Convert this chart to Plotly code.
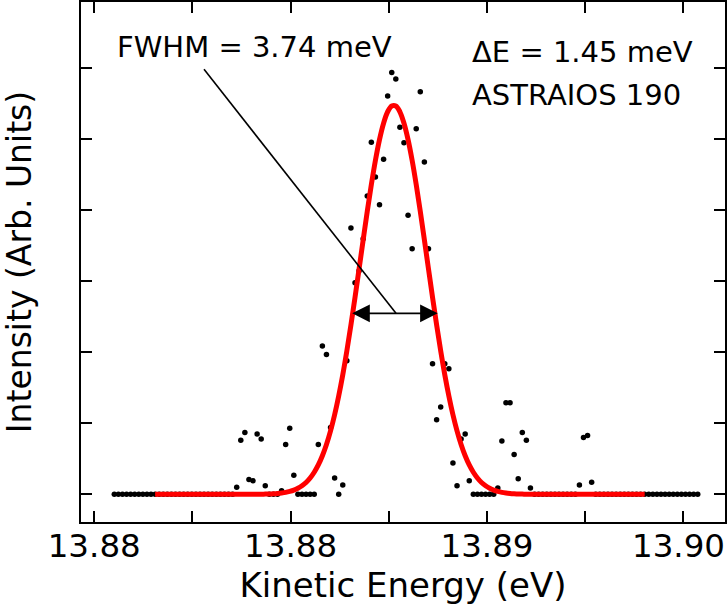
import numpy as np
import plotly.graph_objects as go

# Energy sampling of the scan (eV): start and step of the spectrometer grid
E_START = 13.8768188
E_STEP = 0.00016619
N_POINTS = 144
energy = np.round(E_START + E_STEP * np.arange(N_POINTS), 7)

# Measured intensity (arb. units), one value per energy sample
intensity = (
    [0.0] * 30
    + [0.10, 0.76, 0.87, 0.21, 0.19, 0.85, 0.78, 0.12, 0.0, 0.0,
       0.0, 0.05, 0.70, 0.93, 0.27, 0.0, 0.0, 0.0, 0.0, 0.0,
       0.70, 2.09, 1.97, 0.94, 0.23, 0.0, 0.13, 1.88, 3.75, 2.98,
       3.15, 3.60, 4.20, 4.96, 4.47, 4.08, 4.72, 5.61, 5.94, 5.85,
       5.17, 4.95, 3.93, 3.46, 5.15, 5.67, 4.68, 3.46, 1.84, 1.05,
       1.23, 1.84, 1.77, 0.44, 0.12, 0.78, 0.85, 0.19, 0.0, 0.0,
       0.0, 0.0, 0.0, 0.0, 0.09, 0.75, 1.29, 1.29, 0.56, 0.22,
       0.87, 0.76, 0.09]
    + [0.0] * 11
    + [0.13, 0.80, 0.83, 0.17]
    + [0.0] * 26
)

# Gaussian fit curve, drawn on samples 10..130 of the grid
FIT_FIRST, FIT_LAST = 10, 131
fit_values = (
    [0.0] * 27
    + [0.003, 0.005, 0.008, 0.012, 0.018, 0.027, 0.041, 0.059, 0.085, 0.120,
       0.167, 0.230, 0.311, 0.414, 0.543, 0.702, 0.894, 1.121, 1.385, 1.685,
       2.020, 2.385, 2.773, 3.177, 3.584, 3.984, 4.361, 4.703, 4.996, 5.227,
       5.388, 5.470, 5.470, 5.388, 5.227, 4.996, 4.703, 4.361, 3.984, 3.584,
       3.177, 2.773, 2.385, 2.020, 1.685, 1.385, 1.121, 0.894, 0.702, 0.543,
       0.414, 0.311, 0.230, 0.167, 0.120, 0.085, 0.059, 0.041, 0.027, 0.018,
       0.012, 0.008, 0.005, 0.003]
    + [0.0] * 30
)
fit_energy = energy[FIT_FIRST:FIT_LAST]

# Axis ticks (the last label, at the right edge, is placed as an annotation)
x_tickvals = [13.876, 13.880, 13.884, 13.888, 13.892, 13.896, 13.900]
x_ticktext = ["13.88", "", "13.88", "", "13.89", "", ""]
last_tick_text = "13.90"
y_tickvals = [0, 1, 2, 3, 4, 5, 6]

# Annotation texts
fwhm_text = "FWHM = 3.74 meV"
de_text = "\u0394E = 1.45 meV"
inst_text = "ASTRAIOS 190"

FONT = "DejaVu Sans"
TICK_SIZE = 32.5

fig = go.Figure()
fig.add_trace(go.Scatter(
    x=energy, y=intensity, mode="markers",
    marker=dict(color="black", size=5.5, line=dict(width=0)),
    showlegend=False, hoverinfo="skip"))
fig.add_trace(go.Scatter(
    x=fit_energy, y=fit_values, mode="lines",
    line=dict(color="#ff0000", width=5, shape="spline"),
    showlegend=False, hoverinfo="skip"))

# FWHM double arrow
fig.add_annotation(x=13.889992, y=2.549, ax=13.886448, ay=2.549,
                   xref="x", yref="y", axref="x", ayref="y",
                   text="", showarrow=True, arrowside="end+start",
                   arrowhead=2, arrowsize=2.2, arrowwidth=1.6, arrowcolor="black")
# Leader line from label to arrow
fig.add_shape(type="line", x0=13.880473, y0=5.986, x1=13.888293, y1=2.549,
              xref="x", yref="y", line=dict(color="black", width=1.6))

fig.add_annotation(x=13.876847, y=6.30, xref="x", yref="y", text=fwhm_text,
                   showarrow=False, xanchor="left", yanchor="middle",
                   font=dict(family=FONT, size=29, color="black"))
fig.add_annotation(x=13.891308, y=6.23, xref="x", yref="y", text=de_text,
                   showarrow=False, xanchor="left", yanchor="middle",
                   font=dict(family=FONT, size=29, color="black"))
fig.add_annotation(x=13.891308, y=5.624, xref="x", yref="y", text=inst_text,
                   showarrow=False, xanchor="left", yanchor="middle",
                   font=dict(family=FONT, size=29, color="black"))

# Right-most tick label, kept inside the page
fig.add_annotation(x=1.0023, y=0, xref="paper", yref="paper", text=last_tick_text,
                   showarrow=False, xanchor="right", yanchor="top", yshift=-4,
                   borderpad=0,
                   font=dict(family=FONT, size=TICK_SIZE, color="black"))

fig.update_xaxes(
    range=[13.875462, 13.901695],
    tickvals=x_tickvals, ticktext=x_ticktext,
    ticks="inside", ticklen=11, tickwidth=2, tickcolor="black",
    showline=True, linewidth=2, linecolor="black", mirror="ticks",
    showgrid=False, zeroline=False,
    ticklabeloverflow="allow", ticklabelstandoff=-6,
    tickfont=dict(family=FONT, size=TICK_SIZE, color="black"),
    title=dict(text="Kinetic Energy (eV)", standoff=9,
               font=dict(family=FONT, size=34, color="black")))
fig.update_yaxes(
    range=[-0.390, 6.934],
    tickvals=y_tickvals, showticklabels=False,
    ticks="inside", ticklen=11, tickwidth=2, tickcolor="black",
    showline=True, linewidth=2, linecolor="black", mirror="ticks",
    showgrid=False, zeroline=False,
    title=dict(text="Intensity (Arb. Units)", standoff=40,
               font=dict(family=FONT, size=33, color="black")))

fig.update_layout(
    width=728, height=614,
    margin=dict(l=81, r=3, t=2, b=92, autoexpand=False),
    plot_bgcolor="white", paper_bgcolor="white",
    font=dict(family=FONT, color="black"))

fig.write_html("out.html", config={"displayModeBar": False},
               post_script="document.body.style.margin='0px';")
